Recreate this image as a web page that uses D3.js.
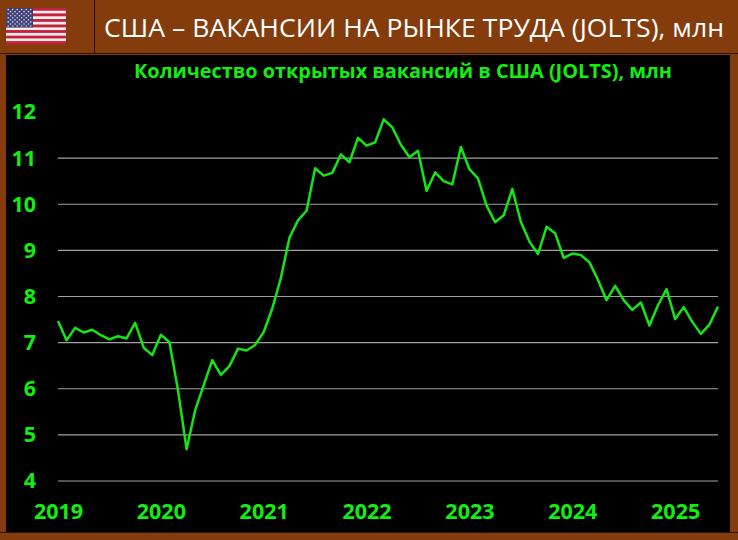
<!DOCTYPE html>
<html><head><meta charset="utf-8">
<script src="https://cdn.jsdelivr.net/npm/d3@7/dist/d3.min.js"></script>
<style>html,body{margin:0;padding:0;background:#843c0c;overflow:hidden}svg{display:block}</style>
</head><body><svg id="c" width="738" height="540"></svg>
<script>
const headerTitle = "США – ВАКАНСИИ НА РЫНКЕ ТРУДА (JOLTS), млн";
const chartTitle = "Количество открытых вакансий в США (JOLTS), млн";
const years = [2019,2020,2021,2022,2023,2024,2025];
const yTicks = [4,5,6,7,8,9,10,11,12];
const gridValues = [4,5,6,7,8,9,10,11];
const openings2019 = [7.47,7.05,7.32,7.22,7.28,7.16,7.07,7.14,7.09,7.43,6.89,6.73];
const openings2020 = [7.17,7.01,5.97,4.69,5.53,6.08,6.62,6.30,6.49,6.87,6.83,6.95];
const openings2021 = [7.23,7.74,8.40,9.27,9.65,9.86,10.78,10.62,10.68,11.08,10.91,11.44];
const openings2022 = [11.27,11.34,11.84,11.67,11.29,11.02,11.16,10.29,10.69,10.50,10.43,11.24];
const openings2023 = [10.76,10.56,9.97,9.61,9.76,10.33,9.62,9.19,8.92,9.51,9.37,8.84];
const openings2024 = [8.93,8.90,8.74,8.36,7.92,8.23,7.92,7.71,7.87,7.37,7.81,8.16];
const openings2025 = [7.51,7.77,7.45,7.19,7.39,7.78];
const values = [...openings2019,...openings2020,...openings2021,...openings2022,...openings2023,...openings2024,...openings2025];

const BROWN="#843c0c", GREEN="#12ee12", LINE="#14e614", GRID="#a0a0a0";
const svg=d3.select("#c");
svg.append("rect").attr("width",738).attr("height",540).attr("fill",BROWN);
svg.append("rect").attr("x",6).attr("y",55).attr("width",724).attr("height",477).attr("fill","#000");
svg.append("line").attr("x1",0).attr("x2",738).attr("y1",53.5).attr("y2",53.5).attr("stroke","#2a1204").attr("stroke-width",1);
svg.append("line").attr("x1",94.5).attr("x2",94.5).attr("y1",0).attr("y2",53).attr("stroke","#2a1204").attr("stroke-width",1);
svg.append("line").attr("x1",0).attr("x2",738).attr("y1",532.5).attr("y2",532.5).attr("stroke","#2a1204").attr("stroke-width",1);

// flag
const flag=svg.append("g").attr("transform","translate(6,8)");
const stripeH=36/13;
d3.range(13).forEach(i=>flag.append("rect").attr("x",0).attr("y",i*stripeH).attr("width",60).attr("height",stripeH+0.2).attr("fill",i%2?"#f4eef0":"#c8203f"));
flag.append("rect").attr("width",27).attr("height",stripeH*7).attr("fill","#3f3f78");
d3.range(9).forEach(r=>d3.range(r%2?5:6).forEach(c=>flag.append("circle").attr("cx",(r%2?4.5:2.2)+c*4.5).attr("cy",1.6+r*2.05).attr("r",0.8).attr("fill","#dcdcec")));

// texts
svg.append("text").attr("x",104).attr("y",37).attr("fill","#fff")
  .attr("font-family","'Open Sans'").attr("font-size",25.5).attr("textLength",620).attr("lengthAdjust","spacingAndGlyphs").text(headerTitle);
svg.append("text").attr("x",134).attr("y",78).attr("fill",GREEN)
  .attr("font-family","'Open Sans'").attr("font-weight",700).attr("font-size",19.5).attr("textLength",538).attr("lengthAdjust","spacingAndGlyphs").text(chartTitle);

const x=d3.scaleLinear().domain([0,values.length-1]).range([58,718]);
const y=d3.scaleLinear().domain([4,12]).range([481,112]);

// grid
svg.append("g").selectAll("line").data(gridValues).join("line")
  .attr("x1",x(0)).attr("x2",x(values.length-1)).attr("y1",d=>y(d)).attr("y2",d=>y(d))
  .attr("stroke",GRID).attr("stroke-width",1.2);

// y axis
const ya=svg.append("g").attr("transform","translate(36,0)").call(d3.axisLeft(y).tickValues(yTicks).tickFormat(d3.format("d")).tickSize(0).tickPadding(0));
ya.select(".domain").remove();
ya.selectAll("text").attr("fill",GREEN).attr("font-family","'Open Sans'").attr("font-weight",700).attr("font-size",21.5);

// x axis
const xa=svg.append("g").attr("transform","translate(0,504)").call(d3.axisBottom(x).tickValues(years.map((_,i)=>i*12)).tickFormat((d,i)=>years[i]).tickSize(0).tickPadding(0));
xa.select(".domain").remove();
xa.selectAll("text").attr("fill",GREEN).attr("font-family","'Open Sans'").attr("font-weight",700).attr("font-size",21.5);

// line
svg.append("path").datum(values).attr("fill","none").attr("stroke",LINE).attr("stroke-width",2.5).attr("stroke-linejoin","round")
  .attr("d",d3.line().x((d,i)=>x(i)).y(d=>y(d)));
</script></body></html>
